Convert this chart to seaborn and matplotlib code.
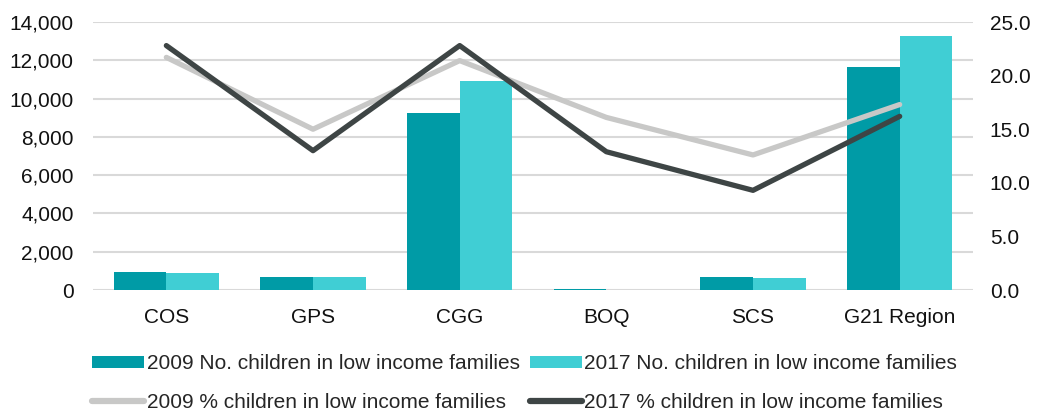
import matplotlib
matplotlib.use("Agg")
import matplotlib.pyplot as plt
import matplotlib.ticker as mticker
from matplotlib.patches import Patch
from matplotlib.lines import Line2D
import seaborn as sns
import pandas as pd

regions = ["COS", "GPS", "CGG", "BOQ", "SCS", "G21 Region"]
count_2009 = [940, 660, 9230, 40, 700, 11630]
count_2017 = [905, 700, 10940, 20, 630, 13290]
pct_2009 = [21.7, 15.0, 21.4, 16.1, 12.6, 17.3]
pct_2017 = [22.8, 13.0, 22.8, 12.9, 9.3, 16.2]

label_c09 = "2009 No. children in low income families"
label_c17 = "2017 No. children in low income families"
label_p09 = "2009 % children in low income families"
label_p17 = "2017 % children in low income families"

col_c09 = "#009BA6"
col_c17 = "#40CED4"
col_p09 = "#C8C8C7"
col_p17 = "#3E4545"

sns.set_style("white")
plt.rcParams["font.family"] = ["Liberation Sans", "DejaVu Sans"]

counts = pd.DataFrame({
    "region": regions * 2,
    "series": [label_c09] * len(regions) + [label_c17] * len(regions),
    "value": count_2009 + count_2017,
})

fig = plt.figure(figsize=(10.37, 4.12), dpi=100)
ax = fig.add_axes([0.0897, 0.296, 0.8486, 0.6506])

sns.barplot(data=counts, x="region", y="value", hue="series", order=regions,
            palette=[col_c09, col_c17], width=0.72, saturation=1,
            linewidth=0, legend=False, ax=ax, zorder=3)
ax.set_ylim(0, 14000)
ax.set_xlim(-0.5, len(regions) - 0.5)
ax.yaxis.set_major_locator(mticker.MultipleLocator(2000))
ax.yaxis.set_major_formatter(mticker.FuncFormatter(lambda v, p: f"{v:,.0f}"))
ax.grid(axis="y", color="#D9D9D9", linewidth=1.5, zorder=0)
ax.set_axisbelow(True)
for s in ax.spines.values():
    s.set_visible(False)
ax.set_xlabel("")
ax.set_ylabel("")
ax.tick_params(axis="both", length=0, labelsize=15, colors="#111111")
ax.tick_params(axis="x", pad=13)
ax.tick_params(axis="y", pad=14)

ax2 = ax.twinx()
sns.lineplot(x=regions, y=pct_2009, color=col_p09, linewidth=3.8, ax=ax2, sort=False)
sns.lineplot(x=regions, y=pct_2017, color=col_p17, linewidth=3.8, ax=ax2, sort=False)
ax2.set_ylim(0, 25)
ax2.set_xlim(-0.5, len(regions) - 0.5)
ax2.yaxis.set_major_locator(mticker.MultipleLocator(5))
ax2.yaxis.set_major_formatter(mticker.FormatStrFormatter("%.1f"))
for s in ax2.spines.values():
    s.set_visible(False)
ax2.tick_params(axis="y", length=0, labelsize=15, colors="#111111", pad=12)
ax2.grid(False)

handles = [
    Patch(facecolor=col_c09, linewidth=0, label=label_c09),
    Line2D([], [], color=col_p09, linewidth=4.5, solid_capstyle="round", label=label_p09),
    Patch(facecolor=col_c17, linewidth=0, label=label_c17),
    Line2D([], [], color=col_p17, linewidth=4.5, solid_capstyle="round", label=label_p17),
]
fig.legend(handles=handles, loc="center", bbox_to_anchor=(0.506, 0.07),
           ncol=2, frameon=False, handlelength=2.5, handleheight=0.53,
           handletextpad=0.1, columnspacing=0.5, labelspacing=0.95,
           borderpad=0, fontsize=15)

fig.savefig("out.png", dpi=100)
